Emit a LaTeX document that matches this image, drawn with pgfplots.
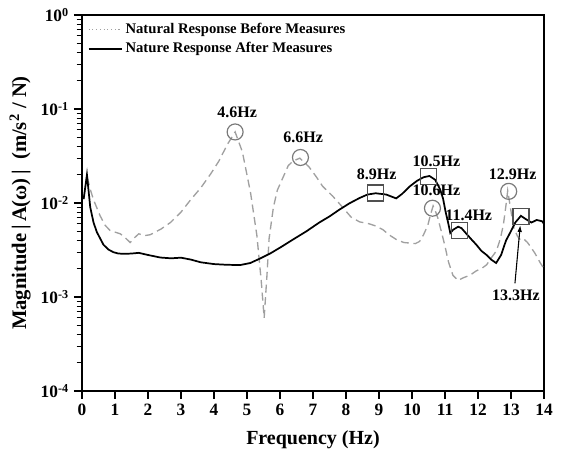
\documentclass[border=0pt]{standalone}
\usepackage{fontspec}
\setmainfont{Liberation Serif}
\usepackage{pgfplots}
\pgfplotsset{compat=1.18}
\usetikzlibrary{calc,arrows.meta}
\definecolor{dashgray}{HTML}{A0A0A0}
\definecolor{circgray}{HTML}{7A7A7A}
\definecolor{sqgray}{HTML}{505050}
\begin{document}
\begin{tikzpicture}
\begin{axis}[
  width=346.5pt, height=282pt, scale only axis,
  ymode=log, xmin=0, xmax=14, ymin=1e-4, ymax=1,
  xtick={0,1,2,3,4,5,6,7,8,9,10,11,12,13,14},
  xticklabels={\textbf{0},\textbf{1},\textbf{2},\textbf{3},\textbf{4},\textbf{5},\textbf{6},\textbf{7},\textbf{8},\textbf{9},\textbf{10},\textbf{11},\textbf{12},\textbf{13},\textbf{14}},
  ytick={1e-4,1e-3,1e-2,1e-1,1},
  minor ytick={2e-4,3e-4,4e-4,5e-4,6e-4,7e-4,8e-4,9e-4,2e-3,3e-3,4e-3,5e-3,6e-3,7e-3,8e-3,9e-3,2e-2,3e-2,4e-2,5e-2,6e-2,7e-2,8e-2,9e-2,0.2,0.3,0.4,0.5,0.6,0.7,0.8,0.9},
  yticklabels={\textbf{10}\textsuperscript{\textbf{-4}},\textbf{10}\textsuperscript{\textbf{-3}},\textbf{10}\textsuperscript{\textbf{-2}},\textbf{10}\textsuperscript{\textbf{-1}},\textbf{10}\textsuperscript{\textbf{0}}},
  xtick align=outside, ytick align=outside, xtick pos=bottom, ytick pos=left,
  major tick length=6pt, minor tick length=4pt,
  major tick style={black, line width=1pt},
  minor tick style={black, line width=0.9pt},
  line width=1.1pt,
  ticklabel style={font=\fontsize{13}{15}\selectfont},
  xlabel={\textbf{Frequency (Hz)}},
  ylabel={\textbf{Magnitude\,|\,A(ω)\,|\ \ (m/s\textsuperscript{2} / N)}},
  xlabel style={font=\fontsize{15}{17}\selectfont, at={(axis description cs:0.5,-0.13)}, anchor=center},
  ylabel style={font=\fontsize{15.5}{17}\selectfont, at={(axis description cs:-0.134,0.5)}, anchor=center},
  legend style={at={(axis description cs:0.008,0.99)}, anchor=north west, draw=none, fill=none,
    font=\bfseries\fontsize{11}{13}\selectfont, row sep=1pt, inner sep=1pt},
  legend cell align=left,
  legend image code/.code={\draw[#1] (0cm,0cm) -- (0.88cm,0cm);},
  clip=false,
]
\addlegendimage{dotted, dashgray, line width=0.8pt}
\addlegendentry{Natural Response Before Measures}
\addlegendimage{black, line width=1.3pt}
\addlegendentry{Nature Response After Measures}

% Before measures (dashed gray)
\addplot[forget plot, dashgray, line width=1pt, dash pattern=on 6pt off 3.5pt] coordinates {
(0.05,0.011)(0.15,0.0195)(0.25,0.014)(0.35,0.0108)(0.55,0.0073)(0.7,0.0058)(0.85,0.0051)
(1.0,0.0049)(1.16,0.0047)(1.3,0.0043)(1.46,0.0038)(1.6,0.0043)(1.72,0.0047)(1.9,0.0045)
(2.07,0.0046)(2.4,0.0053)(2.68,0.0062)(3.0,0.0080)(3.29,0.0108)(3.6,0.0145)(3.9,0.0204)
(4.15,0.028)(4.4,0.0417)(4.64,0.057)(4.86,0.035)(5.11,0.0127)(5.3,0.0045)(5.43,0.0015)
(5.52,0.0006)(5.6,0.0016)(5.67,0.0042)(5.8,0.009)(5.92,0.0137)(6.1,0.019)(6.25,0.025)
(6.4,0.028)(6.6,0.030)(6.88,0.0242)(7.1,0.019)(7.29,0.0151)(7.59,0.0119)(7.9,0.0090)
(8.15,0.0071)(8.41,0.0063)(8.71,0.0060)(8.9,0.0057)(9.12,0.0052)(9.3,0.0046)(9.52,0.0041)
(9.75,0.0038)(9.93,0.00375)(10.1,0.0037)(10.23,0.0039)(10.35,0.0046)(10.48,0.0058)
(10.56,0.0075)(10.64,0.0093)(10.72,0.0080)(10.79,0.0068)(10.9,0.0048)(10.99,0.0036)
(11.1,0.0024)(11.24,0.0017)(11.4,0.0015)(11.55,0.0016)(11.75,0.0017)(11.95,0.0019)
(12.1,0.0020)(12.26,0.0022)(12.4,0.0026)(12.56,0.0031)(12.68,0.0042)(12.77,0.0059)
(12.84,0.0090)(12.9,0.0135)(12.96,0.0100)(13.08,0.0055)(13.2,0.0044)(13.3,0.0040)
(13.4,0.0041)(13.5,0.0038)(13.6,0.0034)(13.73,0.0029)(13.89,0.0023)(14.0,0.0020)
};

% After measures (solid black)
\addplot[forget plot, black, line width=1.3pt] coordinates {
(0.05,0.011)(0.15,0.0200)(0.25,0.0090)(0.35,0.0062)(0.45,0.0049)(0.55,0.0042)(0.65,0.0036)
(0.8,0.0032)(0.95,0.0030)(1.1,0.00290)(1.3,0.00288)(1.5,0.00290)(1.72,0.00295)(2.0,0.00280)
(2.375,0.00263)(2.7,0.00258)(3.0,0.00262)(3.3,0.00250)(3.6,0.00234)(4.0,0.00224)(4.4,0.00220)
(4.8,0.00219)(5.1,0.00230)(5.42,0.00259)(5.7,0.0029)(6.03,0.0034)(6.4,0.0041)(6.8,0.0050)
(7.19,0.0062)(7.5,0.0072)(7.8,0.0085)(8.1,0.0099)(8.41,0.0113)(8.65,0.0123)(8.9,0.0127)
(9.22,0.0123)(9.52,0.0112)(9.7,0.0125)(9.93,0.0150)(10.15,0.0172)(10.35,0.0188)(10.53,0.0194)
(10.7,0.0177)(10.85,0.0140)(10.94,0.0112)(11.02,0.0080)(11.09,0.0063)(11.16,0.0048)
(11.25,0.0052)(11.4,0.0056)(11.5,0.0054)(11.65,0.0047)(11.8,0.0041)(11.95,0.0036)
(12.1,0.0031)(12.26,0.0028)(12.4,0.0025)(12.55,0.0023)(12.7,0.0028)(12.85,0.0040)
(12.97,0.0048)(13.13,0.0062)(13.3,0.0073)(13.46,0.0067)(13.62,0.0062)(13.78,0.0066)
(13.94,0.0064)(14.0,0.0060)
};

% Peak markers
\addplot[forget plot, only marks, mark=o, mark size=6pt, circgray, mark options={line width=0.9pt}]
  coordinates {(4.64,0.057)(6.62,0.0305)(10.62,0.0088)(12.93,0.0133)};
\addplot[forget plot, only marks, mark=square, mark size=6pt, sqgray, mark options={line width=0.9pt}]
  coordinates {(8.9,0.0128)(10.5,0.019)(11.45,0.0051)(13.3,0.0072)};

\begin{scope}[every node/.style={font=\bfseries\fontsize{12}{14}\selectfont, inner sep=0pt}]
\node at (axis cs:4.7,0.093) {4.6Hz};
\node at (axis cs:6.7,0.050) {6.6Hz};
\node at (axis cs:8.93,0.020) {8.9Hz};
\node at (axis cs:10.74,0.0275) {10.5Hz};
\node at (axis cs:10.74,0.0135) {10.6Hz};
\node at (axis cs:13.05,0.0200) {12.9Hz};
\node at (axis cs:11.72,0.0074) {11.4Hz};
\node at (axis cs:13.15,0.00105) {13.3Hz};
\end{scope}
\draw[-{Latex[length=5pt,width=3.5pt]}, line width=0.8pt, black] (axis cs:13.12,0.0014) -- (axis cs:13.28,0.0058);
\end{axis}
\path[use as bounding box] ($(current axis.south west)+(-61.5pt,-45pt)$) rectangle ($(current axis.north east)+(12.75pt,11.25pt)$);
\end{tikzpicture}
\end{document}
